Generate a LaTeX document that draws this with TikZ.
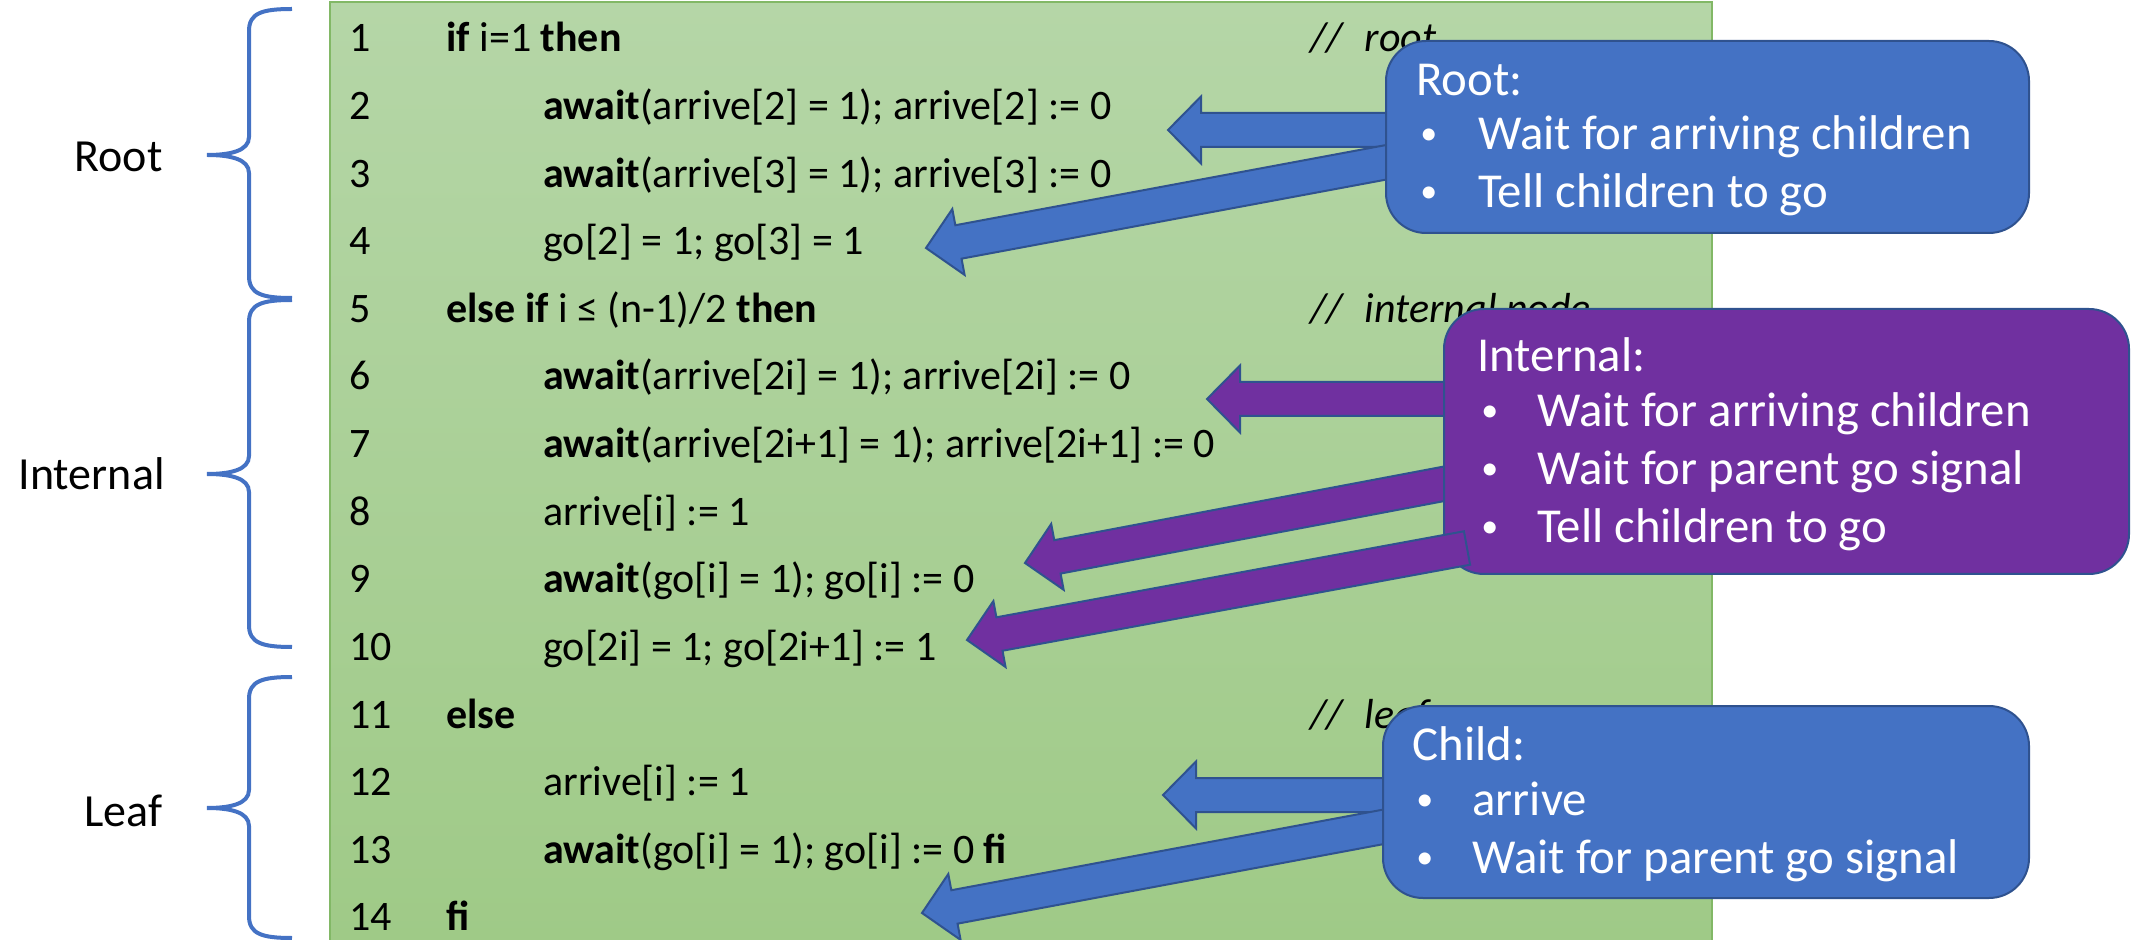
\documentclass[tikz,border=0pt]{standalone}
\usepackage{fontspec}
\setmainfont{Carlito}
\usetikzlibrary{calc}
\definecolor{pblue}{HTML}{4472C4}
\definecolor{ppurple}{HTML}{7030A0}
\definecolor{pborder}{HTML}{2F528F}
\definecolor{gtop}{RGB}{181,214,167}
\definecolor{gbot}{RGB}{159,202,135}
\definecolor{gline}{HTML}{82B866}
\tikzset{
  codetxt/.style={anchor=base west, inner sep=0pt, font=\fontsize{21}{25}\selectfont},
  cmttxt/.style={codetxt, font=\fontsize{21}{25}\selectfont\itshape},
  sidelabel/.style={anchor=base east, inner sep=0pt, font=\fontsize{23}{27}\selectfont},
  brace/.style={draw=pblue, line width=2pt},
  callbox/.style={anchor=north west, rounded corners=20pt, draw=pborder, line width=1pt, inner sep=0pt},
  calltxt/.style={anchor=base west, inner sep=0pt, text=white, font=\fontsize{24.4}{29}\selectfont},
  callbul/.style={anchor=base west, inner sep=0pt, text=white, font=\fontsize{17}{20}\selectfont},
  barrblue/.style={fill=pblue, draw=pborder, line width=1pt, line join=miter},
  barrpurple/.style={fill=ppurple, draw=pborder, line width=1pt, line join=miter},
}
\newcommand\blockarrow[3]{% #1 style, #2 tail, #3 tip
  \path ($(#3)!16.5pt!(#2)$) coordinate (ba-h);
  \draw[#1] (#3) -- ($(ba-h)!16.75pt!90:(#2)$) -- ($(ba-h)!8.5pt!90:(#2)$)
    -- ($(#2)!8.5pt!-90:(#3)$) -- ($(#2)!8.5pt!90:(#3)$)
    -- ($(ba-h)!8.5pt!-90:(#2)$) -- ($(ba-h)!16.75pt!-90:(#2)$) -- cycle;
}
\newcommand\mybrace[3]{% top, tip, bottom (pixel y)
  \draw[brace] (292,#1) .. controls (262,#1) and (249,{#1+4}) .. (249,{#1+22})
    -- (249,{#2-18}) .. controls (249,{#2-4}) and (230,#2) .. (207,#2)
    .. controls (230,#2) and (249,{#2+4}) .. (249,{#2+18})
    -- (249,{#3-22}) .. controls (249,{#3-4}) and (262,#3) .. (292,#3);
}
\newcommand\bul{\raisebox{2.5pt}{•}}
\begin{document}
\begin{tikzpicture}[x=0.5pt,y=-0.5pt]
\useasboundingbox (0,0) rectangle (2131,940);
% code box
\path[top color=gtop, bottom color=gbot] (330,2) rectangle (1712,942);
\draw[gline, line width=0.8pt] (330,942) -- (330,2) -- (1712,2) -- (1712,942);
% braces and labels
\mybrace{9}{155}{298}
\mybrace{300}{474}{647}
\mybrace{677}{808}{938}
\node[sidelabel] (lroot) at (163,172) {Root};
\node[sidelabel] (lint) at (165,490) {Internal};
\node[sidelabel] (lleaf) at (163,826) {Leaf};
% line numbers
\foreach \k in {1,...,14}{
  \node[codetxt] (n\k) at (349,{52+67.6*(\k-1)}) {\k};
}
% code lines
\node[codetxt] (c1) at (446,52) {\textbf{if} i=1 \textbf{then}};
\node[codetxt] (c2) at (543,{52+67.6}) {\textbf{await}(arrive[2] = 1); arrive[2] := 0};
\node[codetxt] (c3) at (543,{52+67.6*2}) {\textbf{await}(arrive[3] = 1); arrive[3] := 0};
\node[codetxt] (c4) at (543,{52+67.6*3}) {go[2] = 1; go[3] = 1};
\node[codetxt] (c5) at (446,{52+67.6*4}) {\textbf{else if} i ≤ (n-1)/2 \textbf{then}};
\node[codetxt] (c6) at (543,{52+67.6*5}) {\textbf{await}(arrive[2i] = 1); arrive[2i] := 0};
\node[codetxt] (c7) at (543,{52+67.6*6}) {\textbf{await}(arrive[2i+1] = 1); arrive[2i+1] := 0};
\node[codetxt] (c8) at (543,{52+67.6*7}) {arrive[i] := 1};
\node[codetxt] (c9) at (543,{52+67.6*8}) {\textbf{await}(go[i] = 1); go[i] := 0};
\node[codetxt] (c10) at (543,{52+67.6*9}) {go[2i] = 1; go[2i+1] := 1};
\node[codetxt] (c11) at (446,{52+67.6*10}) {\textbf{else}};
\node[codetxt] (c12) at (543,{52+67.6*11}) {arrive[i] := 1};
\node[codetxt] (c13) at (543,{52+67.6*12}) {\textbf{await}(go[i] = 1); go[i] := 0 \textbf{fi}};
\node[codetxt] (c14) at (446,{52+67.6*13}) {\textbf{fi}};
% comments
\node[cmttxt] (m1) at (1310,52) {//\hspace{11pt}root};
\node[cmttxt] (m5) at (1310,{52+67.6*4}) {//\hspace{11pt}internal node};
\node[cmttxt] (m11) at (1310,{52+67.6*10}) {//\hspace{11pt}leaf};
% arrow end points
\coordinate (ra1s) at (1420,130); \coordinate (ra1t) at (1168,130);
\coordinate (ra2s) at (1420,156); \coordinate (ra2t) at (926,248);
\coordinate (ia1s) at (1480,399); \coordinate (ia1t) at (1207,399);
\coordinate (ia2s) at (1480,477); \coordinate (ia2t) at (1025,563);
\coordinate (ia3s) at (1467,548); \coordinate (ia3t) at (967,640);
\coordinate (ca1s) at (1420,795); \coordinate (ca1t) at (1163,795);
\coordinate (ca2s) at (1420,820); \coordinate (ca2t) at (922,913);
\blockarrow{barrblue}{ra1s}{ra1t}
\blockarrow{barrblue}{ra2s}{ra2t}
\blockarrow{barrpurple}{ia1s}{ia1t}
\blockarrow{barrpurple}{ia2s}{ia2t}
\blockarrow{barrblue}{ca1s}{ca1t}
\blockarrow{barrblue}{ca2s}{ca2t}
% callouts
\node[callbox, fill=pblue, minimum width=321.5pt, minimum height=96pt] (rootc) at (1385,40) {};
\node[callbox, fill=ppurple, minimum width=342.5pt, minimum height=132.5pt] (intc) at (1443,308) {};
\node[callbox, fill=pblue, minimum width=323pt, minimum height=96pt] (childc) at (1382,705) {};
\blockarrow{barrpurple}{ia3s}{ia3t}
% callout texts
\node[calltxt] (rt0) at (1416,96) {Root:};
\node[callbul] (rb1) at (1420,150) {\bul};
\node[callbul] (rb2) at (1420,208) {\bul};
\node[calltxt] (rt1) at (1478,150) {Wait for arriving children};
\node[calltxt] (rt2) at (1478,208) {Tell children to go};
\node[calltxt] (it0) at (1477,372) {Internal:};
\node[callbul] (ib1) at (1481,427) {\bul};
\node[callbul] (ib2) at (1481,485) {\bul};
\node[callbul] (ib3) at (1481,543) {\bul};
\node[calltxt] (it1) at (1537,427) {Wait for arriving children};
\node[calltxt] (it2) at (1537,485) {Wait for parent go signal};
\node[calltxt] (it3) at (1537,543) {Tell children to go};
\node[calltxt] (ct0) at (1412,760) {Child:};
\node[callbul] (cb1) at (1416,815) {\bul};
\node[callbul] (cb2) at (1416,873) {\bul};
\node[calltxt] (ct1) at (1472,815) {arrive};
\node[calltxt] (ct2) at (1472,873) {Wait for parent go signal};
\end{tikzpicture}
\end{document}
